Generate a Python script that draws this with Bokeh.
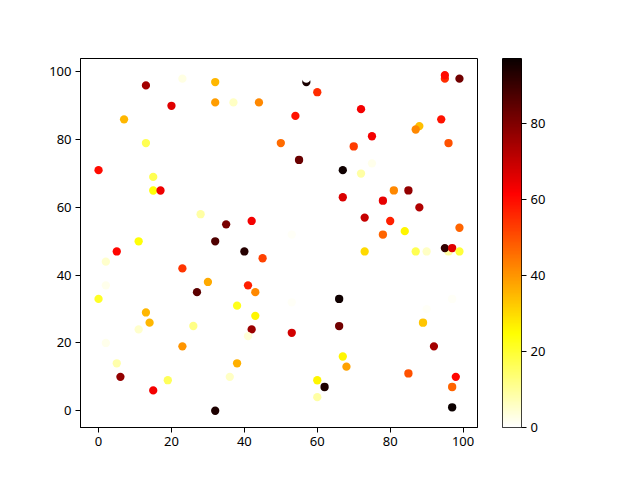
import numpy as np
from bokeh.plotting import figure
from bokeh.layouts import row
from bokeh.models import ColumnDataSource, LinearColorMapper, FixedTicker, Range1d, LinearAxis
from bokeh.embed import file_html
from bokeh.resources import INLINE

xs = [13, 23, 32, 20, 32, 37, 44, 7, 13, 50, 0, 15, 15, 17, 28, 35, 42, 11, 32,
      57, 57, 60, 54, 72, 75, 70, 88, 87, 94, 95, 95, 99, 96, 55, 67, 72, 75, 67, 81,
      85, 78, 88, 73, 80, 78, 84, 99, 53,
      5, 40, 45, 2, 23, 30, 27, 41, 43, 2, 0, 38, 43, 13, 14, 11, 26, 42, 41, 2, 23,
      5, 38, 36, 6, 19, 15, 32,
      73, 87, 90, 96, 95, 97, 99, 53, 66, 97, 90, 89, 53, 66, 92, 67, 68, 85, 98, 97,
      60, 62, 60, 97]
ys = [96, 98, 97, 90, 91, 91, 91, 86, 79, 79, 71, 69, 65, 65, 58, 55, 56, 50, 50,
      97, 98, 94, 87, 89, 81, 78, 84, 83, 86, 98, 99, 98, 79, 74, 71, 70, 73, 63, 65,
      65, 62, 60, 57, 56, 52, 53, 54, 52,
      47, 47, 45, 44, 42, 38, 35, 37, 35, 37, 33, 31, 28, 29, 26, 24, 25, 24, 22, 20, 19,
      14, 14, 10, 10, 9, 6, 0,
      47, 47, 47, 47, 48, 48, 47, 32, 33, 33, 30, 26, 23, 25, 19, 16, 13, 11, 10, 7,
      9, 7, 4, 1]
cs = [75, 3, 35, 66, 39, 6, 42, 35, 17, 46, 60, 17, 24, 64, 9, 81, 63, 24, 87,
      95, 0, 55, 59, 63, 63, 53, 34, 42, 59, 55, 60, 82, 50, 83, 96, 9, 2, 67, 42,
      77, 65, 73, 70, 57, 47, 26, 47, 1,
      61, 93, 52, 5, 54, 37, 85, 57, 42, 2, 21, 22, 26, 35, 35, 5, 12, 76, 4, 2, 40,
      8, 36, 6, 77, 16, 63, 94,
      30, 17, 6, 9, 91, 66, 19, 1, 96, 1, 1, 33, 68, 82, 75, 26, 38, 50, 61, 47,
      26, 94, 9, 97]
cbar_ticks = [0, 20, 40, 60, 80]
axis_ticks = [0, 20, 40, 60, 80, 100]

def hot_r(n=256):
    t = np.linspace(0, 1, n)
    r = np.interp(t, [0, 0.365079, 1], [0.0416, 1, 1])
    g = np.interp(t, [0, 0.365079, 0.746032, 1], [0, 0, 1, 1])
    b = np.interp(t, [0, 0.746032, 1], [0, 0, 1])
    cols = ['#%02x%02x%02x' % (int(round(rr * 255)), int(round(gg * 255)), int(round(bb * 255)))
            for rr, gg, bb in zip(r, g, b)]
    return cols[::-1]

cmax = max(cs)
mapper = LinearColorMapper(palette=hot_r(), low=0, high=cmax)
src = ColumnDataSource(dict(x=xs, y=ys, c=cs))

def style_axis(ax):
    ax.major_tick_out = 5
    ax.major_tick_in = 0
    ax.minor_tick_line_color = None
    ax.major_label_text_font = "Noto Sans"
    ax.major_label_text_font_size = "13px"
    ax.major_label_text_color = "black"
    ax.axis_line_color = "black"
    ax.major_tick_line_color = "black"
    ax.major_label_standoff = 4

p = figure(frame_width=397, frame_height=369, output_backend="svg", toolbar_location=None,
           x_range=Range1d(-4.95, 103.95), y_range=Range1d(-4.95, 103.95),
           min_border_left=80, min_border_right=25, min_border_top=58, min_border_bottom=45)
p.scatter('x', 'y', source=src, size=8.3, line_color=None,
          fill_color={'field': 'c', 'transform': mapper})
p.xgrid.visible = False
p.ygrid.visible = False
p.outline_line_color = "black"
p.outline_line_alpha = 1
for ax in (p.xaxis, p.yaxis):
    ax.ticker = FixedTicker(ticks=axis_ticks)
    style_axis(ax)

# colorbar as its own narrow figure
cb = figure(frame_width=19, frame_height=369, output_backend="svg", toolbar_location=None,
            x_range=Range1d(0, 1), y_range=Range1d(0, cmax),
            x_axis_location=None, y_axis_location=None,
            min_border_left=0, min_border_right=40, min_border_top=58, min_border_bottom=45)
grad = np.linspace(0, cmax, 512).reshape(-1, 1)
cb.image(image=[grad], x=0, y=0, dw=1, dh=cmax, color_mapper=mapper)
cb.xgrid.visible = False
cb.ygrid.visible = False
cb.outline_line_color = "black"
cb.outline_line_alpha = 1
rax = LinearAxis(ticker=FixedTicker(ticks=cbar_ticks))
style_axis(rax)
rax.axis_line_color = None
cb.add_layout(rax, "right")

layout = row(p, cb, spacing=0)
open("out.html", "w").write(file_html(layout, INLINE))
